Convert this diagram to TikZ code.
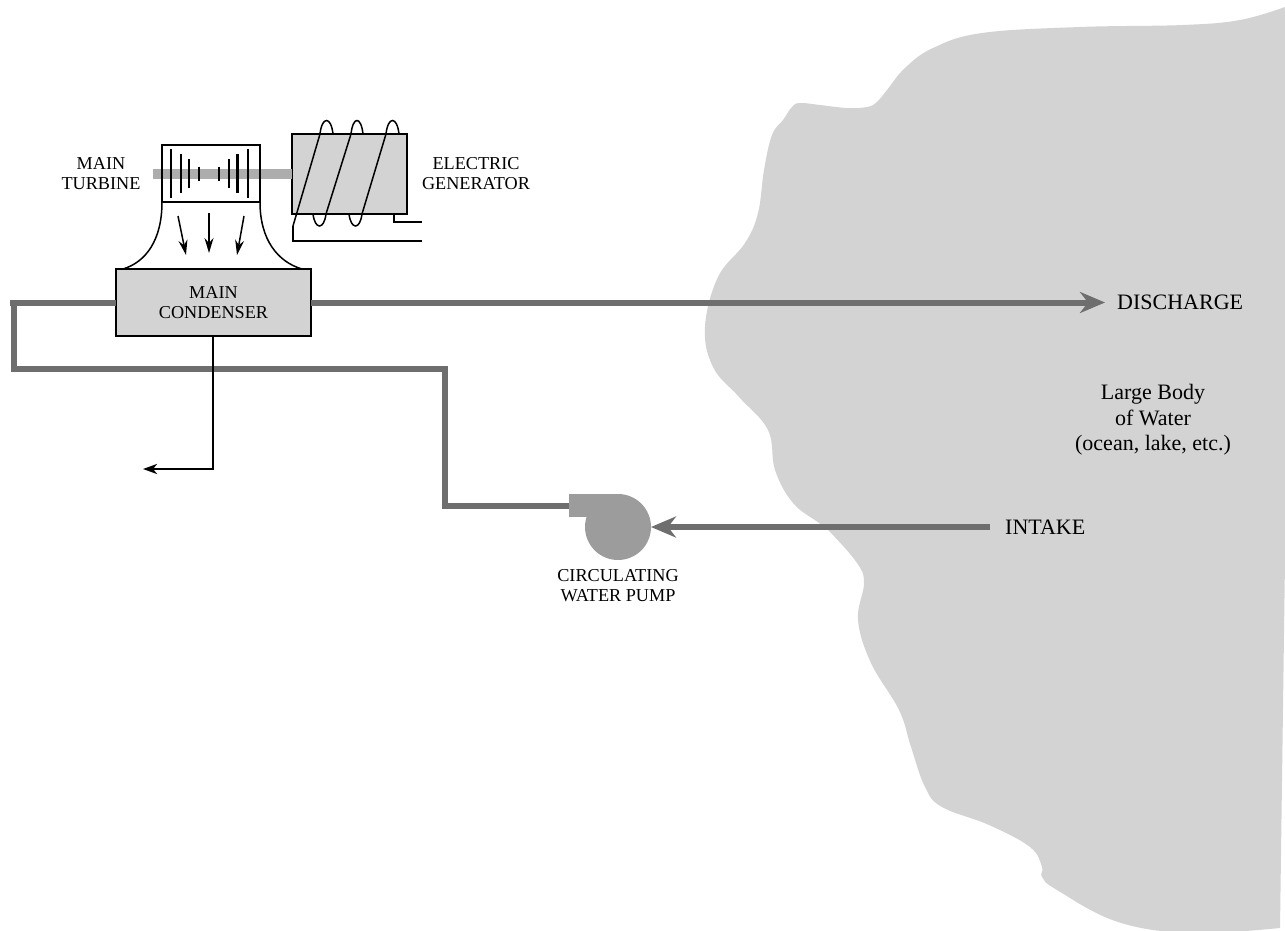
\documentclass[tikz,border=0pt]{standalone}
\usepackage{fontspec}
\setmainfont{Liberation Serif}
\usetikzlibrary{arrows.meta}
\definecolor{watergray}{HTML}{D3D3D3}
\definecolor{pipegray}{HTML}{6E6E6E}
\definecolor{shaftgray}{HTML}{ADADAD}
\definecolor{pumpgray}{HTML}{9C9C9C}
\tikzstyle{unit} = [draw,line width=1.6pt,outer sep=0pt,inner sep=0pt]
\tikzstyle{tag} = [font=\fontsize{18.2}{20.5}\selectfont,align=center,inner sep=0pt]
\tikzstyle{bigtag} = [font=\fontsize{22}{25.5}\selectfont,align=center,inner sep=0pt]
\tikzstyle{pipe} = [pipegray,line width=6pt]
\tikzstyle{pipearrow} = [pipe,-{Stealth[length=25pt,width=21pt,inset=8pt]}]
\tikzstyle{wire} = [line width=1.5pt]
\tikzstyle{flow} = [line width=1.5pt,-{Stealth[length=15pt,width=9pt,inset=5pt]}]
\tikzstyle{blade} = [line width=1.7pt]

\begin{document}
\begin{tikzpicture}[x=1pt,y=-1pt]
        \useasboundingbox (0,0) rectangle (1285,931);
        \fill[watergray] plot[smooth,tension=0.65] coordinates {(1285,7) (1240,20) (1183,25) (1080,27) (982,33) (933,48) (905,68) (887,90) (877,102) (867,107) (847,108) (820,105) (800,103) (792,107) (783,120) (772,135) (764,170) (758,213) (745,243) (718,277) (705,327) (713,367) (739,397) (768,430) (775,470) (793,503) (819,523) (831,533) (857,563) (864,583) (858,620) (871,663) (899,710) (911,747) (925,787) (942,807) (989,825) (1030,847) (1042,867) (1042,877) (1057,890) (1118,922) (1192,933) (1280,928)} -- (1285,560) -- cycle;

        \node[unit, fill=watergray, minimum width=115pt, minimum height=80pt] at (349.5,174) (generator) {};
        \node[unit, fill=watergray, minimum width=195pt, minimum height=67pt] at (213.5,302.5) (condenser) {};
        \node[circle, fill=pumpgray, inner sep=0pt, outer sep=0pt, minimum size=66pt] at (618,527) (pump) {};
        \node[fill=pumpgray, inner sep=0pt, outer sep=0pt, minimum width=49pt, minimum height=23pt] at (593.5,505.5) (outlet) {};

        \node[bigtag, anchor=west] at (1117,302.5) (discharge) {DISCHARGE};
        \node[bigtag, anchor=west] at (1005,527) (intake) {INTAKE};
        \node[bigtag] at (1153,420) (water) {Large Body\\of Water\\(ocean, lake, etc.)};
        \node[tag] at (101,173.5) (turbinetag) {MAIN\\TURBINE};
        \node[tag] at (476,173.5) (generatortag) {ELECTRIC\\GENERATOR};
        \node[tag] at (213.5,302.5) (condensertag) {MAIN\\CONDENSER};
        \node[tag] at (618,585.5) (pumptag) {CIRCULATING\\WATER PUMP};

        \coordinate (shaftend) at (153,174);
        \coordinate (pipeend) at (10,302.5);
        \coordinate (leftturn) at (14,302.5);
        \coordinate (lowleft) at (14,369);
        \coordinate (lowright) at (445,369);
        \coordinate (pumpturn) at (445,505.5);
        \coordinate (drainturn) at (213,469);
        \coordinate (drainend) at (143,469);
        \coordinate (hornleft) at (123,269);
        \coordinate (hornright) at (302,269);
        \coordinate (coilstart) at (293,226);
        \coordinate (mainlow) at (293,241);
        \coordinate (mainend) at (422,241);
        \coordinate (tapstart) at (394,214);
        \coordinate (tapturn) at (394,222);
        \coordinate (tapend) at (422,222);

        \draw[shaftgray, line width=10pt] (shaftend) -- (generator.west);
        \node[unit, line width=1.3pt, minimum width=98pt, minimum height=57pt] at (211,173.5) (turbine) {};
        \foreach \x/\r/\w in {171/24/1.7, 180.7/19.5/1.7, 189/14.5/1.7, 199/7/1.7, 219/7/1.7, 229/14.5/1.7, 237.7/19.5/3, 248/24/1.7}
            \draw[blade, line width=\w pt] (\x,173.5-\r) -- (\x,173.5+\r);

        \draw[wire] (turbine.south west) .. controls (162,240) and (146,262) .. (hornleft);
        \draw[wire] (turbine.south east) .. controls (260,240) and (278,262) .. (hornright);
        \draw[flow] (178,216) -- (186,255);
        \draw[flow] (209,213) -- (209,253);
        \draw[flow] (244,216) -- (237,255);

        \draw[wire] (coilstart) -- (320,134) .. controls (322,116) and (331,116) .. (333,134);
        \draw[wire] (313,214) .. controls (315,230) and (324,230) .. (326,214) -- (351,134) .. controls (353,116) and (361,116) .. (363,134);
        \draw[wire] (349,214) .. controls (351,230) and (360,230) .. (362,214) -- (386,134) .. controls (388,116) and (397,116) .. (399,134);
        \draw[wire, line width=2.3pt] (coilstart) -- (mainlow) -- (mainend);
        \draw[wire, line width=1.7pt] (tapstart) -- (tapturn) -- (tapend);

        \draw[pipe] (pipeend) -- (condenser.west);
        \draw[pipe] (leftturn) -- (lowleft) -- (lowright) -- (pumpturn) -- (outlet.west);
        \draw[pipearrow] (condenser.east) -- ([xshift=-12pt]discharge.west);
        \draw[pipearrow] ([xshift=-15pt]intake.west) -- (pump.east);
        \draw[line width=2.4pt, -{Stealth[length=14pt,width=10pt,inset=4pt]}] (condenser.south -| drainturn) -- (drainturn) -- (drainend);

      \end{tikzpicture}
\end{document}
